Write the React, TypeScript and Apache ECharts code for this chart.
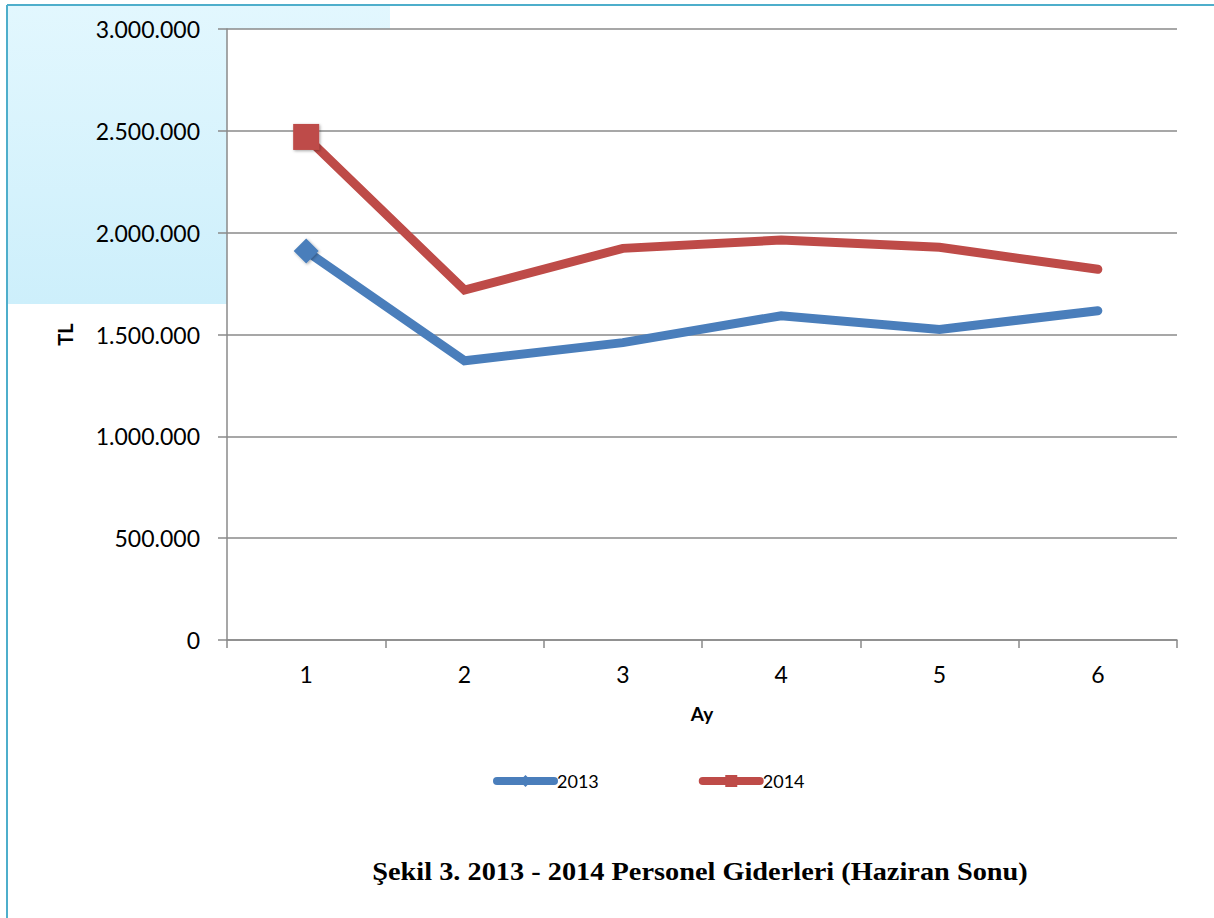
import React, { useEffect, useRef } from "react";
import * as echarts from "echarts";

const months = ["1", "2", "3", "4", "5", "6"];
const series2013 = [1910000, 1371000, 1460000, 1592000, 1525000, 1617000];
const series2014 = [2470000, 1718000, 1923000, 1964000, 1928000, 1820000];
const seriesNames = ["2013", "2014"];
const yTicks = { min: 0, max: 3000000, interval: 500000 };
const caption = "Şekil 3. 2013 - 2014 Personel Giderleri (Haziran Sonu)";
const yName = "TL";
const xName = "Ay";

const fmt = (v: number) => String(v).replace(/\B(?=(\d{3})+(?!\d))/g, ".");

export default function App() {
  const ref = useRef<HTMLDivElement>(null);
  useEffect(() => {
    if (!ref.current) return;
    const chart = echarts.init(ref.current, null, { renderer: "svg" });
    const axisGray = "#8a8a8a";
    const font = "Lato";
    const markerShadow = {
      shadowBlur: 3,
      shadowColor: "rgba(0,0,0,0.35)",
      shadowOffsetX: 1,
      shadowOffsetY: 1,
    };
    chart.setOption({
      animation: false,
      backgroundColor: "#ffffff",
      textStyle: { fontFamily: font },
      graphic: [
        {
          type: "rect",
          z: -10,
          shape: { x: 7, y: 5, width: 383, height: 299 },
          style: {
            fill: new echarts.graphic.LinearGradient(0, 0, 0, 1, [
              { offset: 0, color: "#e2f7fe" },
              { offset: 1, color: "#cdeffb" },
            ]),
          },
        },
        {
          type: "line",
          z: -5,
          shape: { x1: 7, y1: 5, x2: 1214, y2: 5 },
          style: { stroke: "#4eaecb", lineWidth: 2 },
        },
        {
          type: "line",
          z: -5,
          shape: { x1: 7, y1: 5, x2: 7, y2: 918 },
          style: { stroke: "#4eaecb", lineWidth: 2 },
        },
        {
          type: "text",
          x: 700,
          y: 871,
          scaleX: 1.09,
          style: {
            text: caption,
            fill: "#000",
            font: 'bold 26px "Liberation Serif"',
            align: "center",
            verticalAlign: "middle",
          },
        },
      ],
      grid: {
        show: true,
        backgroundColor: "#ffffff",
        borderWidth: 0,
        left: 227,
        top: 29,
        right: 37,
        bottom: 278,
        containLabel: false,
      },
      legend: {
        left: 493,
        top: 772,
        padding: 0,
        itemWidth: 57,
        itemHeight: 15,
        itemGap: 100,
        lineStyle: { width: 8, cap: "round" },
        textStyle: { fontFamily: font, fontSize: 18, color: "#000", padding: [0, 0, 0, -2] },
        data: seriesNames,
      },
      xAxis: {
        type: "category",
        data: months,
        boundaryGap: true,
        name: xName,
        nameLocation: "middle",
        nameGap: 64,
        nameTextStyle: { fontFamily: font, fontSize: 19, fontWeight: "bold", color: "#000" },
        axisLine: { show: true, lineStyle: { color: axisGray, width: 1.5 } },
        axisTick: { show: true, length: 8, lineStyle: { color: axisGray, width: 1.5 } },
        axisLabel: { fontFamily: font, fontSize: 23, color: "#000", margin: 22 },
        splitLine: { show: false },
      },
      yAxis: {
        type: "value",
        min: yTicks.min,
        max: yTicks.max,
        interval: yTicks.interval,
        name: yName,
        nameLocation: "middle",
        nameRotate: 90,
        nameGap: 152,
        nameTextStyle: { fontFamily: font, fontSize: 20, fontWeight: "bold", color: "#000" },
        axisLine: { show: true, lineStyle: { color: axisGray, width: 1.5 } },
        axisTick: { show: true, length: 9, lineStyle: { color: axisGray, width: 1.5 } },
        axisLabel: {
          fontFamily: font,
          fontSize: 23,
          color: "#000",
          margin: 27,
          formatter: (v: number) => fmt(v),
        },
        splitLine: { show: true, lineStyle: { color: axisGray, width: 1.5 } },
      },
      series: [
        {
          name: seriesNames[0],
          type: "line",
          data: series2013,
          color: "#4a7ebb",
          symbol: "diamond",
          symbolSize: (_v: number, p: any) => (p.dataIndex === 0 ? 25 : 0),
          showSymbol: true,
          lineStyle: { width: 9, color: "#4a7ebb", cap: "round", join: "miter" },
          itemStyle: { color: "#4a7ebb", ...markerShadow },
          z: 3,
        },
        {
          name: seriesNames[1],
          type: "line",
          data: series2014,
          color: "#be4b48",
          symbol: "rect",
          symbolSize: (_v: number, p: any) => (p.dataIndex === 0 ? 26 : 0),
          showSymbol: true,
          lineStyle: { width: 9, color: "#be4b48", cap: "round", join: "miter" },
          itemStyle: { color: "#be4b48", ...markerShadow },
          z: 3,
        },
      ],
    });
    return () => chart.dispose();
  }, []);
  return (
    <div
      ref={ref}
      style={{ position: "absolute", left: 0, top: 0, width: 1214, height: 918 }}
    />
  );
}
